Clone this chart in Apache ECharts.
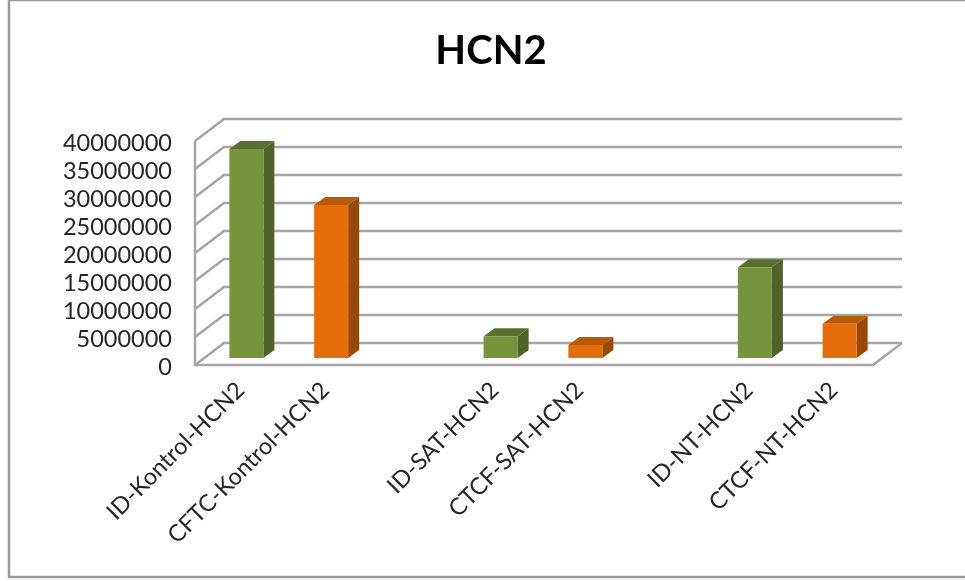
<!DOCTYPE html>
<html>
<head>
<meta charset="utf-8">
<style>html,body{margin:0;padding:0;background:#fff}#chart{width:965px;height:581px}</style>
<script src="https://cdn.jsdelivr.net/npm/echarts@6/dist/echarts.min.js"></script>
</head>
<body>
<div id="chart"></div>
<script>
// HCN2 expression per sample; empty slots separate the three groups.
const categories = ['ID-Kontrol-HCN2', 'CFTC-Kontrol-HCN2', '', 'ID-SAT-HCN2', 'CTCF-SAT-HCN2', '', 'ID-NT-HCN2', 'CTCF-NT-HCN2'];
const values = [37300000, 27300000, null, 3900000, 2300000, null, 16200000, 6100000];
const groupOf = [0, 1, null, 0, 1, null, 0, 1];
const yTicks = [0, 5000000, 10000000, 15000000, 20000000, 25000000, 30000000, 35000000, 40000000];

// Pseudo-3D projection offsets, in pixels.
const WALL_DX = 29, WALL_DY = -22;
const BAR_DX = 9, BAR_DY = -7;
const BAR_W = 34, BAR_SIDE_DX = 11, BAR_SIDE_DY = -8;

const LINE = '#a6a6a6';
const TEXT = { fontFamily: 'Lato', fontSize: 23.5, color: '#262626' };
const palette = [
  { front: '#77933c', top: '#5a7030', side: '#4f6228' },
  { front: '#e46c0a', top: '#b85a08', side: '#984807' }
];

const chart = echarts.init(document.getElementById('chart'));

function renderWalls(params, api) {
  const style = { stroke: LINE, lineWidth: 2.5, fill: null };
  const area = params.coordSys;
  const x0 = area.x, x1 = area.x + area.width;
  const children = [];
  yTicks.forEach(function (t) {
    const y = api.coord([0, t])[1];
    children.push({
      type: 'polyline',
      shape: { points: [[x0, y], [x0 + WALL_DX, y + WALL_DY], [x1 + WALL_DX, y + WALL_DY]] },
      style: style
    });
  });
  const yBase = api.coord([0, 0])[1];
  const yTop = api.coord([0, yTicks[yTicks.length - 1]])[1];
  children.push({ type: 'polyline', shape: { points: [[x0, yTop], [x0, yBase], [x1, yBase], [x1 + WALL_DX, yBase + WALL_DY]] }, style: style });
  return { type: 'group', children: children };
}

function renderBar(params, api) {
  const idx = api.value(0);
  const val = api.value(1);
  const c = palette[groupOf[idx]];
  const base = api.coord([idx, 0]);
  const top = api.coord([idx, val]);
  const l = base[0] + BAR_DX - BAR_W / 2, r = l + BAR_W;
  const b = base[1] + BAR_DY, t = top[1] + BAR_DY;
  const dx = BAR_SIDE_DX, dy = BAR_SIDE_DY;
  return {
    type: 'group',
    children: [
      { type: 'polygon', shape: { points: [[r, t], [r + dx, t + dy], [r + dx, b + dy], [r, b]] }, style: { fill: c.side } },
      { type: 'polygon', shape: { points: [[l, t], [l + dx, t + dy], [r + dx, t + dy], [r, t]] }, style: { fill: c.top } },
      { type: 'rect', shape: { x: l, y: t, width: BAR_W, height: b - t }, style: { fill: c.front } }
    ]
  };
}

chart.setOption({
  animation: false,
  backgroundColor: '#fff',
  title: {
    text: 'HCN2', left: 486, top: 46, textAlign: 'center', textVerticalAlign: 'middle',
    textStyle: { fontFamily: 'Lato', fontWeight: 'bold', fontSize: 40, color: '#000' }
  },
  graphic: [{
    type: 'rect', silent: true, z: 0,
    shape: { x: 9, y: 0, width: 980, height: 577 },
    style: { fill: null, stroke: '#9a9a9a', lineWidth: 2.5 }
  }],
  grid: { left: 195, top: 141, width: 678, height: 224 },
  xAxis: {
    type: 'category', data: categories,
    axisLine: { show: false }, axisTick: { show: false }, splitLine: { show: false },
    axisLabel: {
      interval: 0, rotate: 45, margin: 18,
      formatter: function (v) { return v ? '{t|' + v + '}' : ''; },
      rich: { t: Object.assign({ padding: [9, 0, 0, 0] }, TEXT) }
    }
  },
  yAxis: {
    type: 'value', min: 0, max: 40000000, interval: 5000000,
    axisLine: { show: false }, axisTick: { show: false }, splitLine: { show: false },
    axisLabel: {
      margin: 23,
      formatter: function (v) { return '{t|' + v + '}'; },
      rich: { t: Object.assign({ padding: [4, 0, 0, 0] }, TEXT) }
    }
  },
  series: [
    { type: 'custom', coordinateSystem: 'cartesian2d', renderItem: renderWalls, data: [[0, 0]], silent: true, z: 1, clip: false },
    {
      type: 'custom', coordinateSystem: 'cartesian2d', renderItem: renderBar, z: 2, clip: false,
      encode: { x: 0, y: 1 },
      data: values.map(function (v, i) { return [i, v]; }).filter(function (d) { return d[1] !== null; })
    }
  ]
});
</script>
</body>
</html>
